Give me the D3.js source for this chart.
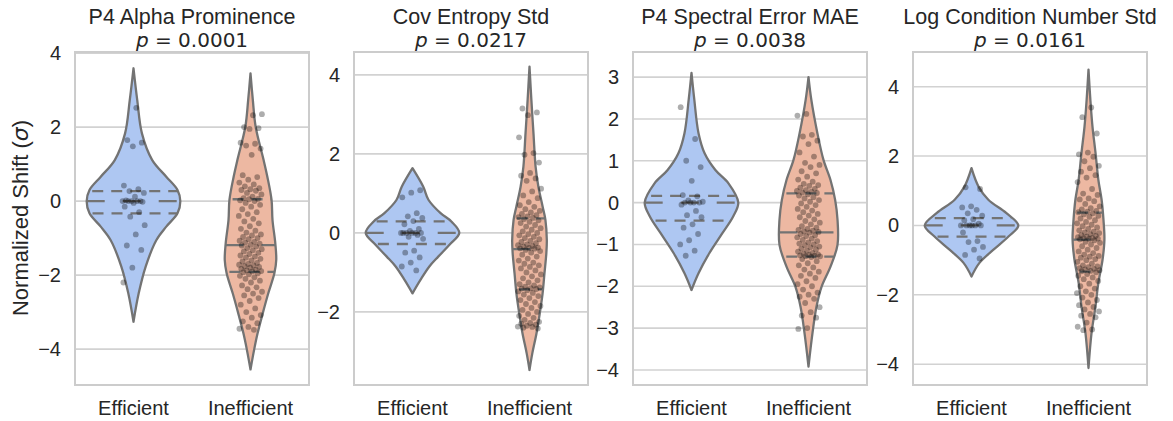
<!DOCTYPE html>
<html>
<head>
<meta charset="utf-8">
<script src="https://cdn.jsdelivr.net/npm/d3@7"></script>
<style>
  body { margin: 0; background: #fff; }
  text { font-family: "Liberation Sans", Arial, sans-serif; fill: #262626; }
</style>
</head>
<body>
<div id="chart"></div>
<script>
const categories = ["Efficient", "Inefficient"];
const titles = ["P4 Alpha Prominence", "Cov Entropy Std", "P4 Spectral Error MAE", "Log Condition Number Std"];
const pValues = ["0.0001", "0.0217", "0.0038", "0.0161"];
const yDomains = [[-4.97, 4.03], [-3.85, 4.58], [-4.36, 3.6], [-4.6, 5.0]];
const yTicks = [[-4, -2, 0, 2, 4], [-2, 0, 2, 4], [-4, -3, -2, -1, 0, 1, 2, 3], [-4, -2, 0, 2, 4]];

// violin outlines: [value, relative half width]
const shape1Eff = [[3.59, 0], [2.73, 0.08], [1.83, 0.18], [1.11, 0.4], [0.66, 0.7], [0.3, 0.94], [0, 1], [-0.33, 0.94], [-0.69, 0.7], [-1.05, 0.49], [-1.77, 0.26], [-2.5, 0.11], [-3.26, 0]];
const shape1Ineff = [[3.45, 0], [2.73, 0.05], [2.01, 0.11], [1.11, 0.28], [0.66, 0.36], [0.03, 0.45], [-0.51, 0.47], [-1.14, 0.53], [-1.59, 0.55], [-1.95, 0.51], [-2.49, 0.38], [-3.04, 0.26], [-3.58, 0.15], [-4.0, 0.08], [-4.55, 0]];
const shape2Eff = [[1.64, 0], [1.17, 0.23], [0.84, 0.34], [0.5, 0.6], [0.29, 0.83], [0, 1], [-0.3, 0.79], [-0.6, 0.55], [-0.85, 0.36], [-1.19, 0.17], [-1.53, 0]];
const shape2Ineff = [[4.21, 0], [3.37, 0.04], [2.52, 0.085], [1.68, 0.13], [1.17, 0.19], [0.67, 0.28], [0.33, 0.34], [-0.18, 0.37], [-0.51, 0.36], [-1.02, 0.32], [-1.53, 0.28], [-2.03, 0.22], [-2.54, 0.15], [-3.05, 0.06], [-3.47, 0]];
const shape3Eff = [[3.1, 0], [2.46, 0.06], [1.66, 0.15], [1.18, 0.28], [0.78, 0.51], [0.46, 0.79], [0, 1], [-0.33, 0.89], [-0.73, 0.66], [-1.21, 0.38], [-1.69, 0.15], [-2.09, 0]];
const shape3Ineff = [[3.0, 0], [2.46, 0.06], [1.66, 0.19], [1.02, 0.32], [0.54, 0.47], [0.06, 0.57], [-0.41, 0.62], [-1.01, 0.62], [-1.53, 0.47], [-2.01, 0.28], [-2.49, 0.17], [-3.12, 0.085], [-3.92, 0]];
const shape4Eff = [[1.65, 0], [1.12, 0.15], [0.74, 0.36], [0.36, 0.74], [0, 1], [-0.32, 0.79], [-0.7, 0.47], [-1.08, 0.17], [-1.47, 0]];
const shape4Ineff = [[4.49, 0], [3.62, 0.04], [2.85, 0.085], [2.09, 0.15], [1.32, 0.21], [0.74, 0.28], [0.16, 0.32], [-0.41, 0.34], [-0.99, 0.3], [-1.66, 0.21], [-2.33, 0.15], [-3.1, 0.065], [-4.11, 0]];

// quartiles: [q1, median, q3]
const quart1Eff = [-0.33, 0.0, 0.27];
const quart1Ineff = [-1.91, -1.19, 0.05];
const quart2Eff = [-0.28, 0.0, 0.29];
const quart2Ineff = [-1.43, -0.41, 0.37];
const quart3Eff = [-0.43, 0.0, 0.16];
const quart3Ineff = [-1.29, -0.71, 0.22];
const quart4Eff = [-0.32, 0.0, 0.21];
const quart4Ineff = [-1.33, -0.41, 0.37];

// observations (normalized shift)
const points1Eff = [2.52, 1.65, 1.58, 1.48, 0.42, 0.32, 0.27, 0.22, 0.12, 0.02, 0, 0, 0, 0, 0, -0.02, -0.05, -0.15, -0.3, -0.42, -0.65, -0.9, -1.2, -1.32, -1.8, -2.2];
const points1Ineff = [2.35, 2.32, 2.0, 1.97, 1.95, 1.58, 1.55, 1.5, 1.42, 1.25, 0.7, 0.65, 0.58, 0.5, 0.45, 0.4, 0.35, 0.32, 0.3, 0.28, 0.22, 0.18, 0.12, 0.08, 0.06, 0.05,
  0.02, 0.0, -0.05, -0.1, -0.15, -0.22, -0.3, -0.35, -0.4, -0.48, -0.55, -0.6, -0.68, -0.75, -0.8, -0.85, -0.9, -0.93, -0.97, -1.0, -1.03, -1.07, -1.1, -1.12, -1.15, -1.18,
  -1.2, -1.23, -1.27, -1.3, -1.33, -1.36, -1.4, -1.43, -1.47, -1.5, -1.53, -1.56, -1.6, -1.63, -1.67, -1.7, -1.72, -1.74, -1.76, -1.78, -1.8, -1.83, -1.85, -1.87, -1.89, -1.9,
  -1.92, -1.95, -1.98, -2.02, -2.06, -2.1, -2.15, -2.2, -2.28, -2.33, -2.38, -2.45, -2.5, -2.55, -2.62, -2.7, -2.8, -2.9, -3.0, -3.08, -3.15, -3.25, -3.3, -3.4, -3.45, -3.48];
const points2Eff = [1.08, 1.02, 0.9, 0.5, 0.42, 0.38, 0.3, 0.22, 0.1, 0.05, 0, 0, 0, 0, 0, 0, -0.05, -0.1, -0.15, -0.45, -0.5, -0.62, -0.75, -0.85, -0.95];
const points2Ineff = [3.15, 3.05, 2.98, 2.42, 2.02, 1.98, 1.78, 1.52, 1.45, 1.38, 1.32, 1.12, 1.05, 0.95, 0.88, 0.78, 0.7, 0.66, 0.6, 0.56, 0.52, 0.48, 0.45, 0.42, 0.4, 0.38,
  0.35, 0.32, 0.28, 0.25, 0.2, 0.16, 0.12, 0.08, 0.04, 0.0, -0.03, -0.06, -0.1, -0.13, -0.16, -0.2, -0.23, -0.26, -0.29, -0.31, -0.33, -0.35, -0.37, -0.38, -0.39, -0.4,
  -0.43, -0.46, -0.5, -0.55, -0.6, -0.65, -0.7, -0.75, -0.78, -0.82, -0.86, -0.9, -0.95, -1.0, -1.05, -1.1, -1.15, -1.2, -1.25, -1.3, -1.33, -1.36, -1.38, -1.4, -1.41, -1.42,
  -1.45, -1.48, -1.52, -1.56, -1.6, -1.65, -1.7, -1.75, -1.8, -1.85, -1.9, -1.95, -2.0, -2.05, -2.1, -2.15, -2.2, -2.25, -2.28, -2.3, -2.32, -2.35, -2.37, -2.38, -2.4, -2.42];
const points3Eff = [2.28, 1.52, 1.0, 0.85, 0.52, 0.18, 0.15, 0.05, 0.02, 0, 0, 0, 0, -0.05, -0.2, -0.3, -0.35, -0.52, -0.6, -0.75, -0.9, -1.0, -1.15, -1.27];
const points3Ineff = [2.12, 2.08, 1.62, 1.58, 1.48, 1.4, 1.2, 1.1, 0.95, 0.9, 0.85, 0.75, 0.7, 0.62, 0.55, 0.5, 0.45, 0.42, 0.4, 0.36, 0.33, 0.3, 0.28, 0.26, 0.24, 0.23,
  0.2, 0.17, 0.13, 0.1, 0.06, 0.02, -0.02, -0.06, -0.1, -0.15, -0.19, -0.23, -0.27, -0.31, -0.35, -0.4, -0.44, -0.48, -0.52, -0.56, -0.6, -0.63, -0.65, -0.67, -0.69, -0.7,
  -0.72, -0.75, -0.78, -0.8, -0.83, -0.86, -0.89, -0.92, -0.95, -0.98, -1.0, -1.02, -1.05, -1.07, -1.1, -1.12, -1.15, -1.17, -1.2, -1.22, -1.24, -1.25, -1.26, -1.27, -1.28, -1.285,
  -1.3, -1.35, -1.4, -1.45, -1.5, -1.55, -1.6, -1.65, -1.7, -1.75, -1.8, -1.88, -1.95, -2.0, -2.08, -2.15, -2.2, -2.25, -2.3, -2.4, -2.5, -2.62, -2.7, -2.75, -3.0, -3.02];
const points4Eff = [1.1, 1.05, 0.55, 0.52, 0.45, 0.35, 0.28, 0.18, 0.15, 0.05, 0, 0, 0, 0, 0, 0, -0.2, -0.45, -0.48, -0.62, -0.7, -0.85, -0.95];
const points4Ineff = [3.4, 3.12, 2.65, 2.1, 2.05, 1.98, 1.85, 1.72, 1.65, 1.55, 1.45, 1.38, 1.25, 1.05, 0.92, 0.88, 0.78, 0.75, 0.7, 0.62, 0.55, 0.5, 0.46, 0.42, 0.4, 0.38,
  0.35, 0.32, 0.28, 0.25, 0.2, 0.15, 0.1, 0.06, 0.02, -0.02, -0.06, -0.1, -0.14, -0.18, -0.2, -0.22, -0.25, -0.28, -0.3, -0.32, -0.34, -0.36, -0.37, -0.38, -0.39, -0.4,
  -0.43, -0.47, -0.5, -0.55, -0.6, -0.65, -0.7, -0.75, -0.8, -0.84, -0.88, -0.9, -0.93, -0.97, -1.0, -1.05, -1.1, -1.15, -1.18, -1.2, -1.23, -1.25, -1.27, -1.29, -1.31, -1.32,
  -1.35, -1.4, -1.45, -1.5, -1.55, -1.6, -1.68, -1.75, -1.82, -1.9, -1.95, -2.0, -2.08, -2.15, -2.22, -2.3, -2.35, -2.42, -2.48, -2.55, -2.6, -2.65, -2.8, -2.92, -3.0, -3.02];

const shapes = [[shape1Eff, shape1Ineff], [shape2Eff, shape2Ineff], [shape3Eff, shape3Ineff], [shape4Eff, shape4Ineff]];
const quarts = [[quart1Eff, quart1Ineff], [quart2Eff, quart2Ineff], [quart3Eff, quart3Ineff], [quart4Eff, quart4Ineff]];
const points = [[points1Eff, points1Ineff], [points2Eff, points2Ineff], [points3Eff, points3Ineff], [points4Eff, points4Ineff]];

const w = 1173;
const h = 421;
const panelLeft = [75, 354, 633, 913];
const panelW = 234;
const plotTop = 52, plotBottom = 385;
const fills = ["#aec7f2", "#edb8a2"];
const lineColor = "#737373";

const svg = d3.select("#chart")
  .append("svg")
  .attr("width", w)
  .attr("height", h);

// half-width at a value, for quartile lines
function widthAt(shape, v) {
  const s = shape.slice().sort((a, b) => a[0] - b[0]);
  for (let i = 0; i < s.length - 1; i++) {
    if (v >= s[i][0] && v <= s[i + 1][0]) {
      const t = (v - s[i][0]) / (s[i + 1][0] - s[i][0]);
      return s[i][1] + t * (s[i + 1][1] - s[i][1]);
    }
  }
  return 0;
}

titles.forEach(function(title, p) {
  const x = d3.scaleBand()
    .domain(categories)
    .range([panelLeft[p], panelLeft[p] + panelW])
    .paddingInner(0)
    .paddingOuter(0);
  const bw = x.bandwidth();
  const cx = c => x(c) + bw / 2;
  const wScale = d3.scaleLinear().domain([0, 1]).range([0, 0.4 * bw]);

  const y = d3.scaleLinear()
    .domain(yDomains[p])
    .range([plotBottom, plotTop]);

  const g = svg.append("g");

  // grid
  g.append("g")
    .selectAll("line")
    .data(yTicks[p])
    .join("line")
    .attr("x1", panelLeft[p])
    .attr("x2", panelLeft[p] + panelW)
    .attr("y1", d => y(d))
    .attr("y2", d => y(d))
    .attr("stroke", "#d2d2d2")
    .attr("stroke-width", 1.6);

  // y axis labels
  const yAxis = d3.axisLeft(y).tickValues(yTicks[p]).tickSize(0).tickPadding(14)
    .tickFormat(d => d < 0 ? "\u2212" + Math.abs(d) : d);
  const ya = g.append("g")
    .attr("transform", `translate(${panelLeft[p]},0)`)
    .call(yAxis);
  ya.select(".domain").remove();
  ya.selectAll("text")
    .attr("font-size", 20)
    .attr("fill", "#262626");

  // x axis labels
  const xa = g.append("g")
    .attr("transform", `translate(0,${plotBottom})`)
    .call(d3.axisBottom(x).tickSize(0).tickPadding(16));
  xa.select(".domain").remove();
  xa.selectAll("text")
    .attr("font-size", 20)
    .attr("fill", "#262626");

  categories.forEach(function(cat, k) {
    const shape = shapes[p][k];
    const c = cx(cat);
    const area = d3.area()
      .y(d => y(d[0]))
      .x0(d => c - wScale(d[1]))
      .x1(d => c + wScale(d[1]))
      .curve(d3.curveCatmullRom.alpha(0.5));

    g.append("path")
      .datum(shape)
      .attr("d", area)
      .attr("fill", fills[k])
      .attr("stroke", lineColor)
      .attr("stroke-width", 2.3)
      .attr("stroke-linejoin", "round");

    // quartile lines
    quarts[p][k].forEach(function(q, j) {
      const hw = wScale(widthAt(shape, q));
      g.append("line")
        .attr("x1", c - hw)
        .attr("x2", c + hw)
        .attr("y1", y(q))
        .attr("y2", y(q))
        .attr("stroke", lineColor)
        .attr("stroke-width", 2.3)
        .attr("stroke-dasharray", j === 1 ? "18,18" : "11,8")
        .attr("stroke-dashoffset", j === 1 ? 0 : -3);
    });
  });

  // strip points
  categories.forEach(function(cat, k) {
    const c = cx(cat);
    const jit = (i) => ((((i + 1) * 0.6180339 + k * 0.37 + p * 0.21) % 1) - 0.5) * 0.2 * bw;
    g.append("g")
      .selectAll("circle")
      .data(points[p][k])
      .join("circle")
      .attr("cx", (d, i) => c + jit(i))
      .attr("cy", d => y(d))
      .attr("r", 2.9)
      .attr("fill", "#000")
      .attr("fill-opacity", 0.32);
  });

  // frame
  g.append("rect")
    .attr("x", panelLeft[p])
    .attr("y", plotTop)
    .attr("width", panelW)
    .attr("height", plotBottom - plotTop)
    .attr("fill", "none")
    .attr("stroke", "#cccccc")
    .attr("stroke-width", 2);

  // title
  const cxPanel = panelLeft[p] + panelW / 2;
  g.append("text")
    .attr("x", cxPanel)
    .attr("y", 24)
    .attr("text-anchor", "middle")
    .attr("font-size", 21.5)
    .text(title);
  const t2 = g.append("text")
    .attr("x", cxPanel)
    .attr("y", 46.5)
    .attr("text-anchor", "middle")
    .attr("font-size", 20)
    .style("font-family", "'DejaVu Sans', sans-serif");
  t2.append("tspan").style("font-style", "italic").text("p");
  t2.append("tspan").text(" = " + pValues[p]);
});

// y label
const yl = svg.append("text")
  .attr("transform", "translate(28,218) rotate(-90)")
  .attr("text-anchor", "middle")
  .attr("font-size", 22);
yl.append("tspan").text("Normalized Shift (");
yl.append("tspan").style("font-family", "'DejaVu Sans', sans-serif").style("font-style", "italic").text("\u03c3");
yl.append("tspan").text(")");
</script>
</body>
</html>
